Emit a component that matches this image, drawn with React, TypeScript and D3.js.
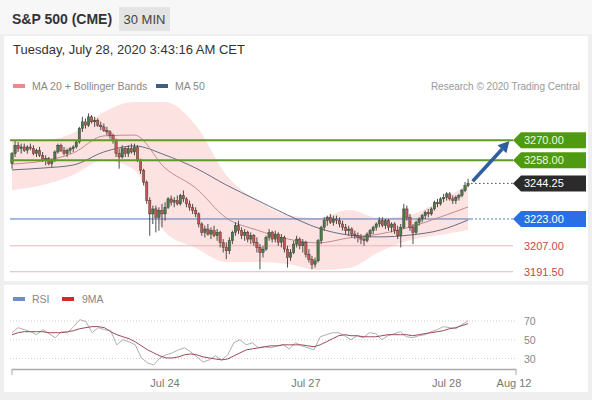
import React from "react";
import * as d3 from "d3";

// ---- data ----
const candles: [number, number, number, number][] = [
  [3256,3263,3253,3262],[3262,3270,3260,3267],[3267,3269,3263,3265],[3265,3268,3262,3266],[3266,3268,3263,3264],
  [3264,3267,3262,3266],[3266,3268,3264,3265],[3265,3267,3261,3262],[3262,3265,3260,3264],[3264,3266,3260,3261],
  [3261,3263,3257,3258],[3258,3261,3255,3259],[3259,3260,3255,3256],[3256,3259,3254,3258],[3258,3264,3257,3263],
  [3263,3268,3262,3267],[3267,3268,3263,3264],[3264,3266,3261,3262],[3262,3265,3260,3264],[3264,3266,3262,3265],
  [3265,3267,3263,3266],[3266,3270,3265,3269],[3269,3278,3268,3277],[3277,3284,3275,3281],[3281,3283,3277,3279],
  [3279,3286,3278,3284],[3284,3285,3280,3281],[3281,3284,3278,3282],[3282,3283,3278,3279],[3279,3281,3276,3278],
  [3278,3280,3275,3276],[3276,3278,3273,3275],[3275,3276,3271,3273],[3273,3274,3268,3270],[3270,3271,3260,3262],
  [3262,3265,3253,3260],[3260,3267,3259,3265],[3265,3266,3260,3262],[3262,3267,3260,3265],[3265,3268,3262,3263],
  [3263,3268,3261,3266],[3266,3267,3257,3258],[3258,3259,3250,3252],[3252,3253,3243,3245],[3245,3246,3232,3234],
  [3234,3236,3213,3226],[3226,3231,3220,3229],[3229,3231,3215,3224],[3224,3230,3216,3228],[3228,3232,3218,3226],
  [3226,3233,3222,3230],[3230,3236,3229,3235],[3235,3237,3231,3233],[3233,3236,3230,3234],[3234,3237,3231,3232],
  [3232,3238,3231,3237],[3237,3240,3233,3235],[3235,3236,3230,3232],[3232,3234,3228,3230],[3230,3232,3226,3228],
  [3228,3230,3224,3226],[3226,3227,3218,3220],[3220,3221,3213,3215],[3215,3219,3212,3217],[3217,3220,3213,3214],
  [3214,3218,3211,3216],[3216,3219,3212,3213],[3213,3217,3210,3215],[3215,3216,3206,3209],[3209,3211,3203,3206],
  [3206,3209,3199,3204],[3204,3212,3202,3210],[3210,3216,3208,3215],[3215,3221,3213,3219],[3219,3222,3214,3216],
  [3216,3218,3211,3213],[3213,3217,3210,3215],[3215,3216,3209,3211],[3211,3215,3208,3213],[3213,3214,3207,3209],
  [3209,3212,3203,3206],[3206,3208,3193,3203],[3203,3207,3200,3205],[3205,3213,3204,3212],[3212,3217,3210,3215],
  [3215,3216,3209,3211],[3211,3216,3209,3214],[3214,3215,3207,3209],[3209,3214,3206,3212],[3212,3213,3203,3205],
  [3205,3207,3194,3200],[3200,3205,3198,3203],[3203,3210,3202,3208],[3208,3213,3206,3211],[3211,3212,3205,3207],
  [3207,3211,3203,3209],[3209,3210,3200,3202],[3202,3205,3197,3199],[3199,3201,3193,3196],[3196,3200,3194,3198],
  [3198,3211,3197,3210],[3210,3219,3208,3218],[3218,3224,3216,3222],[3222,3225,3219,3224],[3224,3226,3220,3221],
  [3221,3225,3219,3223],[3223,3225,3220,3222],[3222,3224,3218,3220],[3220,3222,3216,3218],[3218,3220,3214,3216],
  [3216,3219,3213,3217],[3217,3218,3212,3214],[3214,3216,3211,3213],[3213,3215,3209,3212],[3212,3214,3208,3211],
  [3211,3213,3207,3210],[3210,3215,3209,3214],[3214,3217,3212,3216],[3216,3219,3214,3218],[3218,3221,3216,3220],
  [3220,3224,3218,3222],[3222,3224,3218,3219],[3219,3223,3217,3222],[3222,3223,3216,3218],[3218,3221,3215,3220],
  [3220,3221,3214,3216],[3216,3219,3211,3213],[3213,3220,3206,3218],[3218,3232,3217,3229],[3229,3231,3222,3224],
  [3224,3226,3216,3218],[3218,3220,3208,3215],[3215,3222,3214,3221],[3221,3224,3219,3223],[3223,3226,3221,3225],
  [3225,3228,3223,3227],[3227,3229,3224,3226],[3226,3230,3225,3229],[3229,3234,3228,3233],[3233,3235,3230,3232],
  [3232,3236,3231,3235],[3235,3238,3233,3236],[3236,3239,3234,3238],[3238,3239,3234,3235],[3235,3237,3232,3234],
  [3234,3237,3232,3236],[3236,3238,3234,3237],[3237,3241,3236,3240],[3240,3245,3239,3243],[3243,3247,3242,3244.25],
];

const bandIdx = [0, 10, 20, 30, 40, 50, 60, 70, 80, 90, 100, 110, 120, 130, 140, 149];
const bandUpper = [3270.2, 3270.2, 3274.3, 3286.9, 3292.9, 3292.9, 3279.1, 3249.3, 3234.3, 3225.4, 3223.6, 3228.4, 3223.6, 3225.4, 3234.3, 3243.3];
const bandLower = [3240.3, 3243.3, 3249.3, 3258.2, 3252.3, 3215.2, 3205.7, 3197.3, 3197.3, 3196.1, 3192.6, 3193.7, 3203.3, 3210.5, 3213.4, 3216.4];
const ma20 = [3255.8, 3257.6, 3262.4, 3272.6, 3273.1, 3253.4, 3241.5, 3223.6, 3216.4, 3211.1, 3208.7, 3211.7, 3214.0, 3218.2, 3224.2, 3230.2];
const ma50 = [3252.3, 3253.4, 3255.2, 3263.0, 3266.6, 3261.2, 3253.4, 3243.3, 3234.3, 3225.4, 3217.6, 3213.4, 3212.3, 3213.4, 3216.4, 3222.4];

const rsi = [57.5,62.9,60.8,58.6,55.4,60.8,56.5,52.2,58.6,57.5,64,71.5,69.4,57.5,62.9,60.8,59.7,44.6,50,47.8,
  44.6,30.6,25.3,23.1,30.6,33.9,36,39.2,41.4,37.1,31.7,26.3,28.5,32.8,28.5,33.9,46.8,50,44.6,46.8,
  41.4,42.5,41.4,43.5,44.6,40.3,46.8,43.5,41.4,39.2,53.2,55.4,57.5,57.5,54.3,50,54.3,52.2,57.5,56.5,
  50,54.3,56.5,58.6,53.2,52.2,54.3,55.4,58.6,60.8,64,62.9,61.8,66.1,70.4];
const rsiMA = [55.4,57.5,58.6,58.6,58.6,58.6,57.5,57.5,57.5,58.6,59.7,61.8,62.9,64,64,62.9,58.6,55.4,53.2,51.1,
  47.8,43.5,39.2,36,32.8,30.6,30.6,31.7,33.9,34.9,33.9,31.7,30.6,29.5,28.5,29.5,32.8,36,39.2,40.3,
  41.4,42.5,43.5,43.5,44.6,44.6,44.6,44.6,43.5,42.5,44.6,47.8,51.1,54.3,55.4,54.3,54.3,53.2,53.2,53.2,
  54.3,55.4,55.4,55.4,55.4,54.3,55.4,56.5,57.5,58.6,59.7,61.8,62.9,65.1,67.2];

const resistanceLevels = [3270, 3258];
const lastPrice = 3244.25;
const pivotLevel = 3223;
const supportLevels = [3207, 3191.5];
const rsiTicks = [70, 50, 30];
const dateLabels = ["Jul 24", "Jul 27", "Jul 28", "Aug 12"];
const dateIdx = [50, 96, 142, 164];
const arrowFrom: [number, number] = [150.5, 3245.5];
const arrowTo: [number, number] = [162.5, 3269.5];

const FONT = "'Liberation Sans', Arial, sans-serif";

export default function App() {
  const W = 592, H = 400;
  const x = d3.scaleLinear().domain([0, 164]).range([12, 514]);
  const y = d3.scaleLinear().domain([3180, 3290]).range([291.0, 106.75]);
  const ry = d3.scaleLinear().domain([30, 70]).range([358.5, 321]);
  const rsiX = (k: number, n: number) => x((k * 149) / (n - 1));

  const area = d3.area<number>()
    .x((_, i) => x(bandIdx[i]))
    .y0((_, i) => y(bandLower[i]))
    .y1((_, i) => y(bandUpper[i]))
    .curve(d3.curveMonotoneX);
  const lineOf = (arr: number[]) =>
    d3.line<number>().x((_, i) => x(bandIdx[i])).y((d) => y(d)).curve(d3.curveMonotoneX)(arr) || "";
  const rsiLine = (arr: number[]) =>
    d3.line<number>().x((_, i) => rsiX(i, arr.length)).y((d) => ry(d)).curve(d3.curveLinear)(arr) || "";

  const xL = 10, xR = 513;
  const lastX = x(candles.length - 1) + 3;

  const tag = (v: number, fill: string, textFill: string) => {
    const yc = y(v);
    const h = 8;
    const p = `M${xR},${yc} L${xR + 8},${yc - h} L586,${yc - h} L586,${yc + h} L${xR + 8},${yc + h} Z`;
    return (
      <g key={"tag" + v}>
        <path d={p} fill={fill} />
        <text x={524} y={yc + 4} fontSize={11} fill={textFill} fontFamily={FONT}>{v.toFixed(2)}</text>
      </g>
    );
  };

  // arrow
  const ax1 = x(arrowFrom[0]), ay1 = y(arrowFrom[1]);
  const ax2 = x(arrowTo[0]), ay2 = y(arrowTo[1]);
  const ang = Math.atan2(ay2 - ay1, ax2 - ax1);
  const hl = 11, hw = 6;
  const bx = ax2 - hl * Math.cos(ang), by = ay2 - hl * Math.sin(ang);
  const head = `M${ax2},${ay2} L${bx + hw * Math.sin(ang)},${by - hw * Math.cos(ang)} L${bx - hw * Math.sin(ang)},${by + hw * Math.cos(ang)} Z`;

  return (
    <div style={{ position: "absolute", left: 0, top: 0 }}>
      <svg width={W} height={H} style={{ display: "block" }}>
        <rect x={0} y={0} width={W} height={H} fill="#efefef" />
        <rect x={0} y={0} width={W} height={34} fill="#f7f7f7" />
        <rect x={4} y={36} width={584} height={245} fill="#ffffff" />
        <rect x={4} y={285} width={584} height={107} fill="#ffffff" />

        {/* header */}
        <text x={12} y={24} fontSize={14} fontWeight="bold" fill="#333" fontFamily={FONT}>S&amp;P 500 (CME)</text>
        <rect x={119} y={7} width={51} height={24} fill="#e4e4e4" />
        <text x={144.5} y={24} fontSize={13} fill="#444" textAnchor="middle" fontFamily={FONT}>30 MIN</text>
        <text x={13} y={54} fontSize={13} fill="#333" fontFamily={FONT}>Tuesday, July 28, 2020 3:43:16 AM CET</text>

        {/* legend */}
        <rect x={13} y={84} width={12} height={4} fill="#e98b8b" />
        <text x={32} y={90} fontSize={10.5} fill="#888" fontFamily={FONT}>MA 20 + Bollinger Bands</text>
        <rect x={156} y={84} width={12} height={4} fill="#3e5e80" />
        <text x={175} y={90} fontSize={10.5} fill="#888" fontFamily={FONT}>MA 50</text>
        <text x={580} y={90} fontSize={10} fill="#999" textAnchor="end" fontFamily={FONT}>Research © 2020 Trading Central</text>

        {/* bollinger band */}
        <path d={area(bandUpper) || ""} fill="#fde2e2" />

        {/* support lines */}
        {supportLevels.map((v) => (
          <line key={"s" + v} x1={xL} x2={xR} y1={y(v)} y2={y(v)} stroke="#f1b3b3" strokeWidth={1} />
        ))}
        {/* pivot */}
        <line x1={xL} x2={lastX} y1={y(pivotLevel)} y2={y(pivotLevel)} stroke="#4d78c4" strokeWidth={1} />
        <line x1={lastX} x2={xR} y1={y(pivotLevel)} y2={y(pivotLevel)} stroke="#4d78c4" strokeWidth={1} strokeDasharray="2,2" />

        {/* moving averages */}
        <path d={lineOf(ma50)} fill="none" stroke="#55607a" strokeWidth={0.9} />
        <path d={lineOf(ma20)} fill="none" stroke="#c08080" strokeWidth={0.9} />

        {/* candles */}
        {candles.map(([o, h, l, c], i) => {
          const cx = x(i);
          const up = c >= o;
          const top = y(Math.max(o, c));
          const bot = y(Math.min(o, c));
          return (
            <g key={i}>
              <line x1={cx} x2={cx} y1={y(h)} y2={y(l)} stroke="#3a3a3a" strokeWidth={0.9} />
              <rect x={cx - 1.2} y={top} width={2.4} height={Math.max(1, bot - top)}
                fill={up ? "#4a7a45" : "#c4574d"} stroke="#333" strokeWidth={0.4} />
            </g>
          );
        })}

        {/* resistance lines */}
        {resistanceLevels.map((v) => (
          <line key={"r" + v} x1={xL} x2={xR} y1={y(v)} y2={y(v)} stroke="#5f9a24" strokeWidth={2} />
        ))}
        {/* last price dotted */}
        <line x1={lastX} x2={xR} y1={y(lastPrice)} y2={y(lastPrice)} stroke="#444" strokeWidth={1} strokeDasharray="1.5,2.5" />

        {/* arrow */}
        <line x1={ax1} y1={ay1} x2={bx} y2={by} stroke="#2f5f9c" strokeWidth={3.5} />
        <path d={head} fill="#2f5f9c" />

        {/* tags */}
        {resistanceLevels.map((v) => tag(v, "#4f9a10", "#e9ffd9"))}
        {tag(lastPrice, "#2b2b2b", "#ffffff")}
        {tag(pivotLevel, "#2a6fe6", "#ffffff")}
        {supportLevels.map((v) => (
          <text key={"st" + v} x={524} y={y(v) + 4} fontSize={11} fill="#c24a4a" fontFamily={FONT}>{v.toFixed(2)}</text>
        ))}

        {/* RSI panel */}
        <rect x={13} y={297} width={12} height={4} fill="#6d8cc9" />
        <text x={32} y={303} fontSize={10.5} fill="#888" fontFamily={FONT}>RSI</text>
        <rect x={62} y={297} width={12} height={4} fill="#d02a2a" />
        <text x={82} y={303} fontSize={10.5} fill="#888" fontFamily={FONT}>9MA</text>

        {rsiTicks.map((t) => (
          <g key={"rt" + t}>
            <line x1={xL} x2={517} y1={ry(t)} y2={ry(t)} stroke="#cfcfcf" strokeWidth={1} strokeDasharray="1,2" />
            <text x={524} y={ry(t) + 4} fontSize={10.5} fill="#888" fontFamily={FONT}>{t}</text>
          </g>
        ))}
        <path d={rsiLine(rsi)} fill="none" stroke="#9a9a9a" strokeWidth={0.8} />
        <path d={rsiLine(rsiMA)} fill="none" stroke="#9b4a5a" strokeWidth={1} />

        {/* x axis */}
        <line x1={12} x2={516} y1={369.5} y2={369.5} stroke="#aaa" strokeWidth={1.5} />
        <line x1={12} x2={12} y1={369} y2={375} stroke="#aaa" strokeWidth={1} />
        <line x1={516} x2={516} y1={369} y2={375} stroke="#aaa" strokeWidth={1} />
        {dateLabels.map((d, i) => (
          <text key={d} x={x(dateIdx[i])} y={387} fontSize={11} fill="#777" textAnchor="middle" fontFamily={FONT}>{d}</text>
        ))}
      </svg>
    </div>
  );
}
